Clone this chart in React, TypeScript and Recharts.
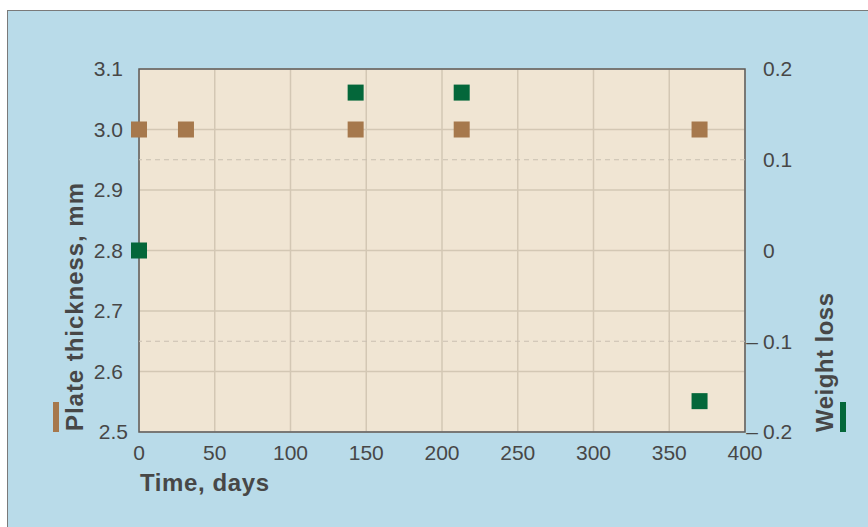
import React from "react";
import {
  ScatterChart,
  Scatter,
  XAxis,
  YAxis,
  CartesianGrid,
  ReferenceLine,
  ReferenceArea,
} from "recharts";

// Plate thickness series (left axis)
const thicknessDays = [0, 31, 143, 213, 370];
const thicknessValues = [3.0, 3.0, 3.0, 3.0, 3.0];

// Weight loss series (right axis)
const weightDays = [0, 143, 213, 370];
const weightValues = [0.0, 0.174, 0.174, -0.166];

const xTicks = [0, 50, 100, 150, 200, 250, 300, 350, 400];
const leftTicks = [2.5, 2.6, 2.7, 2.8, 2.9, 3.0, 3.1];
const rightTicks = [-0.2, -0.1, 0, 0.1, 0.2];
const rightDashed = [-0.1, 0.1];

const thicknessData = thicknessDays.map((d, i) => ({ x: d, y: thicknessValues[i] }));
const weightData = weightDays.map((d, i) => ({ x: d, y: weightValues[i] }));

const FONT = "'Liberation Sans', Arial, Helvetica, sans-serif";
const TXT = "#474747";
const BROWN = "#a6784c";
const GREEN = "#04673a";
const TICK_FS = 21;

const Square = (color: string) => (props: any) => {
  const { cx, cy } = props;
  if (cx == null || cy == null) return <g />;
  return <rect x={cx - 8} y={cy - 8} width={16} height={16} fill={color} />;
};

const LeftTick = (props: any) => {
  const { x, y, payload } = props;
  const v = payload.value as number;
  const dx = Math.abs(v - 2.5) < 1e-9 ? 5 : 0;
  return (
    <text x={x + dx} y={y} dy="0.355em" textAnchor="end" fill={TXT} fontSize={TICK_FS} fontFamily={FONT}>
      {v.toFixed(1)}
    </text>
  );
};

const RightTick = (props: any) => {
  const { x, y, payload } = props;
  const v = payload.value as number;
  const label = v === 0 ? "0" : Math.abs(v).toFixed(1);
  return (
    <g>
      {v < 0 && (
        <text x={x - 5} y={y} dy="0.355em" textAnchor="end" fill={TXT} fontSize={TICK_FS} fontFamily={FONT}>
          –
        </text>
      )}
      <text x={x} y={y} dy="0.355em" textAnchor="start" fill={TXT} fontSize={TICK_FS} fontFamily={FONT}>
        {label}
      </text>
    </g>
  );
};

const BottomTick = (props: any) => {
  const { x, y, payload } = props;
  return (
    <text x={x} y={y} dy="0.71em" textAnchor="middle" fill={TXT} fontSize={TICK_FS} fontFamily={FONT}>
      {payload.value}
    </text>
  );
};

export default function App() {
  return (
    <div
      style={{
        position: "absolute",
        left: 0,
        top: 0,
        width: 868,
        height: 527,
        background: "#ffffff",
        overflow: "hidden",
      }}
    >
      <div
        style={{
          position: "absolute",
          left: 7,
          top: 10,
          right: 0,
          bottom: 0,
          background: "#b9dbe9",
          borderTop: "1px solid #7a7a7a",
          borderLeft: "1px solid #7a7a7a",
        }}
      />
      <div style={{ position: "absolute", left: 0, top: 0 }}>
        <ScatterChart width={868} height={527} margin={{ top: 69, right: 0, bottom: 65, left: 0 }}>
          <CartesianGrid
            xAxisId="x"
            yAxisId="left"
            fill="#f0e5d3"
            fillOpacity={1}
            stroke="#d3c7b4"
            strokeWidth={1.5}
          />
          {rightDashed.map((v) => (
            <ReferenceLine
              key={v}
              xAxisId="x"
              yAxisId="right"
              y={v}
              stroke="#c9bfb1"
              strokeWidth={1}
              strokeDasharray="5 4"
            />
          ))}
          <XAxis
            xAxisId="x"
            type="number"
            dataKey="x"
            domain={[0, 400]}
            ticks={xTicks}
            interval={0}
            height={30}
            axisLine={false}
            tickLine={false}
            tickSize={0}
            tickMargin={13}
            tick={<BottomTick />}
          />
          <YAxis
            yAxisId="left"
            orientation="left"
            type="number"
            dataKey="y"
            domain={[2.5, 3.1]}
            ticks={leftTicks}
            interval={0}
            width={139}
            axisLine={false}
            tickLine={false}
            tickSize={0}
            tickMargin={16}
            tick={<LeftTick />}
          />
          <YAxis
            yAxisId="right"
            orientation="right"
            type="number"
            dataKey="y"
            domain={[-0.2, 0.2]}
            ticks={rightTicks}
            interval={0}
            width={123}
            axisLine={false}
            tickLine={false}
            tickSize={0}
            tickMargin={18}
            tick={<RightTick />}
          />
          <ReferenceArea
            xAxisId="x"
            yAxisId="left"
            x1={0}
            x2={400}
            y1={2.5}
            y2={3.1}
            fill="none"
            fillOpacity={0}
            stroke="#5c5c5c"
            strokeWidth={1.5}
          />
          <Scatter
            xAxisId="x"
            yAxisId="left"
            data={thicknessData}
            shape={Square(BROWN)}
            isAnimationActive={false}
          />
          <Scatter
            xAxisId="x"
            yAxisId="right"
            data={weightData}
            shape={Square(GREEN)}
            isAnimationActive={false}
          />
        </ScatterChart>
      </div>
      <svg
        width={868}
        height={527}
        style={{ position: "absolute", left: 0, top: 0, pointerEvents: "none" }}
      >
        <text x={140} y={491} fill={TXT} fontSize={24} fontWeight="bold" fontFamily={FONT} textLength={129} lengthAdjust="spacing">
          Time, days
        </text>
        <text
          transform="translate(83,431) rotate(-90)"
          x={0}
          y={0}
          fill={TXT}
          fontSize={24}
          fontWeight="bold"
          fontFamily={FONT}
          textLength={248}
          lengthAdjust="spacing"
        >
          Plate thickness, mm
        </text>
        <text
          transform="translate(833,432) rotate(-90)"
          x={0}
          y={0}
          fill={TXT}
          fontSize={24}
          fontWeight="bold"
          fontFamily={FONT}
          textLength={139}
          lengthAdjust="spacing"
        >
          Weight loss
        </text>
        <rect x={53} y={402} width={6} height={30} fill={BROWN} />
        <rect x={840} y={402} width={6} height={30} fill={GREEN} />
      </svg>
    </div>
  );
}
